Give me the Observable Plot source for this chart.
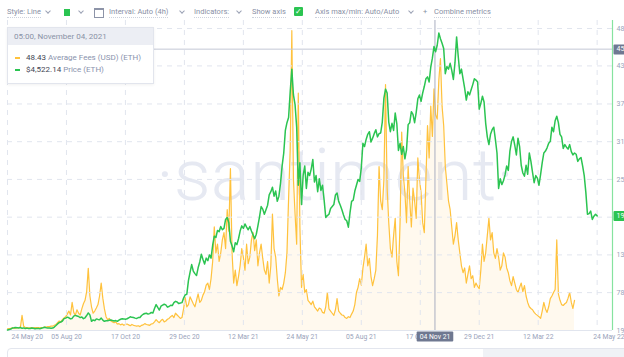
<!DOCTYPE html>
<html><head><meta charset="utf-8">
<script src="https://cdn.jsdelivr.net/npm/d3@7"></script>
<script src="https://cdn.jsdelivr.net/npm/@observablehq/plot@0.6"></script>
<style>
html,body{margin:0;padding:0;background:#fff;overflow:hidden;}
body{width:624px;height:357px;position:relative;font-family:Roboto,"Noto Sans",sans-serif;}
.tb{position:absolute;top:7px;font-size:7.5px;line-height:10px;color:#8990a5;white-space:nowrap;border-bottom:1px dotted #cdd2dd;}
.chev{position:absolute;top:9px;width:3px;height:3px;border-right:1px solid #9ba2b5;border-bottom:1px solid #9ba2b5;transform:rotate(45deg);}
#plots{position:absolute;left:0;top:20px;width:624px;height:325px;}
#plots svg{position:absolute;left:0;top:0;}
#tip{position:absolute;left:7px;top:27px;width:145px;height:55px;background:#fff;border:1px solid #e2e5ed;box-shadow:0 1px 3px rgba(0,0,0,.06);font-size:8px;}
#tip .hd{height:17px;background:#eceef4;color:#8a92a6;line-height:17px;padding-left:6px;}
#tip .row{position:absolute;left:7px;height:10px;line-height:10px;white-space:nowrap;color:#8a93ad;}
#tip .dash{display:inline-block;width:5px;height:1.5px;vertical-align:middle;margin-right:6px;}
#tip b{font-weight:400;color:#3f4553;}
#nav{position:absolute;left:7px;top:348px;width:630px;height:14px;border:1px solid #e3e6ee;border-radius:4px;overflow:hidden;}
#nav .sh{position:absolute;left:475px;top:0;width:160px;height:14px;background:#f0f2f6;}
</style></head>
<body>
<div class="tb" style="left:7px">Style: Line</div><div class="chev" style="left:46px"></div>
<div style="position:absolute;left:64px;top:9px;width:6px;height:7px;background:#2bc451"></div><div class="chev" style="left:79px"></div>
<div style="position:absolute;left:94px;top:8px;width:8px;height:7px;border:1px solid #8d94a8;border-top-width:2px"></div>
<div class="tb" style="left:109px">Interval: Auto (4h)</div><div class="chev" style="left:180px"></div>
<div class="tb" style="left:194px">Indicators:</div><div class="chev" style="left:237px"></div>
<div class="tb" style="left:252px">Show axis</div>
<div style="position:absolute;left:294px;top:7px;width:9px;height:9px;background:#2bc451;border-radius:1px;color:#fff;font-size:8px;line-height:9px;text-align:center">✓</div>
<div class="tb" style="left:315px">Axis max/min: Auto/Auto</div><div class="chev" style="left:409px"></div>
<div class="tb" style="left:423px;border:none">+</div>
<div class="tb" style="left:434px">Combine metrics</div>
<div id="plots"></div>
<div id="tip"><div class="hd">05:00, November 04, 2021</div>
<div class="row" style="top:25px"><span class="dash" style="background:#ffc23d"></span><b>48.43</b> Average Fees (USD) (ETH)</div>
<div class="row" style="top:37px"><span class="dash" style="background:#2bc451"></span><b>$4,522.14</b> Price (ETH)</div>
</div>
<div id="nav"><div class="sh"></div></div>
<script>
// ---- data (2-day steps from 24 May 2020) ----
const startDate = "2020-05-24";
const stepDays = 2;
const price = [205,212,220,236,240,246,242,236,244,232,
238,228,235,229,230,236,232,224,228,231,
226,234,240,247,240,236,238,233,236,252,
275,300,320,330,345,382,390,405,395,378,
385,420,432,424,415,398,408,382,395,430,
470,440,340,362,350,378,370,365,390,360,
340,348,350,356,360,352,345,352,340,358,
372,380,378,372,380,395,410,402,400,390,
385,398,400,430,450,462,465,452,460,478,
470,540,600,555,515,575,590,605,595,560,
570,590,585,630,650,640,615,625,630,700,
750,760,970,1100,1220,1120,1080,1050,1170,1260,
1380,1300,1230,1320,1280,1370,1320,1520,1660,1640,
1750,1730,1810,1760,1780,1920,1950,1870,1580,1510,
1420,1560,1530,1620,1740,1820,1780,1850,1800,1760,
1810,1740,1680,1620,1690,1820,1960,2120,2080,2000,
2070,2140,2300,2350,2420,2280,2360,2200,2280,2480,
2750,2950,3300,3420,3500,3900,4250,3850,3700,3350,
2450,2800,2150,2600,2750,2400,2650,2600,2700,2850,
2500,2600,2350,2550,2370,2450,2220,1950,1980,2000,
2090,2120,2150,2300,2330,2200,2140,2070,1990,1920,
1900,1800,2020,2200,2220,2360,2450,2540,2510,2720,
3100,3050,3160,3240,3280,3120,3180,3250,3310,3200,
3250,3260,3430,3800,3940,3880,3430,3280,3410,3300,
3570,3400,2990,3100,2930,3050,2860,3000,3390,3420,
3590,3550,3420,3580,3790,3850,3750,3880,3980,4100,
4130,4050,4280,4420,4600,4520,4620,4810,4720,4650,
4570,4180,4290,4250,4340,4230,4090,4350,4750,4450,
4180,4250,4100,3950,3770,3900,3850,3930,4010,4100,
4080,4050,3630,3720,3830,3740,3410,3200,3080,3240,
3310,3350,3160,2950,2400,2550,2460,2520,2610,2750,
2680,2980,3130,3200,3070,2920,3180,3050,2760,2640,
2590,2760,2620,2950,2820,2650,2490,2600,2560,2450,
2620,2800,2950,2980,3030,3100,3130,3350,3280,3450,
3520,3420,3240,3200,3020,3080,3040,3010,3080,2970,
2920,2950,2930,2820,2860,2880,2750,2600,2340,2000,
2010,2050,1920,1970,2000,1975];
const fees = [0.4,0.45,0.5,0.6,0.5,0.55,0.6,0.7,0.8,3.5,
1.0,0.7,0.7,0.6,0.6,0.65,0.6,0.7,0.7,0.65,
0.6,0.7,0.7,0.8,0.8,0.9,0.9,1.0,1.0,1.2,
1.4,1.8,2.2,2.0,2.5,2.9,3.2,3.8,4.5,3.6,
6.5,4.2,3.5,4.8,4.0,3.6,5.0,6.2,7.0,9.0,
14.4,8.0,5.5,4.0,4.5,5.2,6.0,8.0,11.0,7.5,
5.0,3.2,2.5,2.8,2.2,2.0,1.8,2.0,1.5,1.6,
1.3,1.5,1.2,1.4,1.5,1.3,1.1,1.4,1.2,1.1,
1.0,1.1,0.9,1.2,1.3,1.6,1.4,1.3,1.2,1.5,
1.6,2.0,2.5,2.1,1.8,2.3,2.6,2.0,2.2,2.6,
2.8,3.2,3.5,3.0,4.0,3.6,3.2,2.8,3.0,5.0,
7.6,5.5,6.0,7.8,7.0,6.2,5.5,7.0,8.5,6.5,
7.0,8.2,9.0,10.5,11.0,9.5,12.0,16.0,24.0,18.0,
20.0,16.0,18.0,21.0,22.7,19.0,28.0,23.0,37.5,18.0,
11.0,14.0,10.4,12.5,15.0,19.0,17.0,14.0,20.0,15.5,
17.0,21.0,22.7,18.5,21.0,15.0,18.0,20.0,16.7,14.0,
13.0,16.0,11.0,15.0,27.0,19.0,17.0,12.0,8.0,10.0,
9.5,11.0,13.4,18.0,30.6,42.0,69.5,35.0,27.0,20.0,
55.0,24.0,10.0,13.0,8.8,9.5,7.0,6.5,6.0,6.8,
5.5,5.0,4.5,5.2,5.0,4.2,4.0,5.5,8.8,5.0,
4.5,4.0,3.5,4.8,7.4,4.5,4.0,3.6,3.5,3.0,
2.8,3.2,3.0,3.8,4.5,6.0,8.8,10.0,12.0,10.5,
14.4,17.0,20.0,15.0,16.7,12.5,10.4,12.0,14.0,22.0,
38.0,30.0,28.0,35.0,57.0,33.0,25.0,19.0,17.0,22.0,
26.0,16.0,12.7,25.0,46.0,36.0,32.0,25.0,38.0,30.0,
24.0,33.0,30.0,26.0,40.0,35.0,32.0,25.0,22.7,35.0,
47.5,40.0,52.0,45.0,56.0,50.0,49.0,58.0,63.0,52.0,
47.5,38.0,34.0,30.0,28.0,24.0,20.0,22.0,25.0,21.0,
18.0,15.0,13.4,14.5,11.0,13.0,15.0,12.0,12.7,10.0,
11.0,10.2,9.7,14.0,20.0,16.0,18.0,22.0,26.0,21.0,
22.7,18.0,16.7,19.0,17.0,14.0,15.0,18.0,17.0,14.5,
13.4,11.5,10.4,12.5,11.0,9.5,8.8,10.0,11.0,9.0,
10.4,8.0,6.5,5.5,5.1,4.8,4.2,3.8,3.5,3.2,
2.8,4.5,6.5,5.0,4.2,5.5,7.4,8.0,8.8,9.5,
21.0,8.5,7.0,6.0,5.8,6.2,6.5,7.5,8.8,6.5,
5.1,7.0];
const xTickDates = ["2020-05-24","2020-08-05","2020-10-17","2020-12-29","2021-03-12","2021-05-24","2021-08-05","2021-10-17","2021-12-29","2022-03-12","2022-05-24"];
const priceTicks = [198,785,1370,1955,2540,3125,3710,4300,4880];
const xDomain = ["2020-05-24","2022-06-12"];
const feeDomain = [0,70];
const crossDate = "2021-11-04T05:00Z";
const crossPrice = 4560;
const watermark = "·santiment·";

// ---- build ----
const DAY = 864e5;
const t0 = new Date(startDate).getTime();
const priceData = price.map((v,i)=>({date:new Date(t0+i*stepDays*DAY), value:v}));
const feeData = fees.map((v,i)=>({date:new Date(t0+i*stepDays*DAY), value:v}));
const xTicks = xTickDates.map(d=>new Date(d));
const xDom = xDomain.map(d=>new Date(d));
const cross = new Date(crossDate);
const fmtX = d3.utcFormat("%d %b %y");
const fmtP = d3.format("d");
const lastPrice = price[price.length-1];

const common = {width:624, height:325, marginTop:0, marginBottom:15, marginLeft:7, marginRight:12};
const font = "Roboto, 'Noto Sans', sans-serif";
const GREEN = "#2bc451", ORANGE = "#ffc23d", LBL = "#9aa3ba";

const feeChart = Plot.plot({
  ...common,
  style:{background:"#fff", overflow:"hidden", fontFamily:font},
  x:{type:"utc", domain:xDom, axis:null},
  y:{domain:feeDomain, range:[310,8], axis:null},
  marks:[
    Plot.text([watermark], {text:d=>d, frameAnchor:"middle", dx:25, dy:1, fontSize:73, fontWeight:300, fill:"#e6e9f2"}),
    Plot.areaY(feeData, {x:"date", y:"value", fill:ORANGE, fillOpacity:0.09}),
    Plot.lineY(feeData, {x:"date", y:"value", stroke:ORANGE, strokeWidth:1.2})
  ]
});

const priceChart = Plot.plot({
  ...common,
  style:{background:"transparent", overflow:"hidden", fontFamily:font},
  x:{type:"utc", domain:xDom, axis:null},
  y:{domain:[priceTicks[0], priceTicks[priceTicks.length-1]], range:[310,8], axis:null},
  marks:[
    Plot.ruleX(xTicks, {x:d=>d, stroke:"#e1e5ee", strokeDasharray:"5,5"}),
    Plot.ruleY(priceTicks.slice(1), {y:d=>d, stroke:"#e1e5ee", strokeDasharray:"5,5"}),
    Plot.ruleY([priceTicks[0]], {y:d=>d, stroke:"#e1e5ee"}),
    Plot.ruleX([cross], {x:d=>d, stroke:"#a9afc0"}),
    Plot.ruleY([crossPrice], {y:d=>d, stroke:"#c3c8d6"}),
    Plot.ruleX([xDom[1]], {x:d=>d, stroke:"#86e39f", strokeWidth:1.2}),
    Plot.lineY(priceData, {x:"date", y:"value", stroke:GREEN, strokeWidth:1.5}),
    Plot.text(priceTicks, {y:d=>d, text:d=>fmtP(d), frameAnchor:"right", textAnchor:"start", dx:4, fill:LBL, fontSize:7}),
    Plot.text(xTicks.slice(1,-1), {x:d=>d, text:d=>fmtX(d), frameAnchor:"bottom", dy:8, fill:LBL, fontSize:6.8}),
    Plot.text(xTicks.slice(0,1), {x:d=>d, text:d=>fmtX(d), frameAnchor:"bottom", dy:8, textAnchor:"start", dx:4, fill:LBL, fontSize:6.8}),
    Plot.text(xTicks.slice(-1), {x:d=>d, text:d=>fmtX(d), frameAnchor:"bottom", dy:8, textAnchor:"start", dx:-4, fill:LBL, fontSize:6.8}),
    Plot.text([cross], {x:d=>d, text:d=>fmtX(d), frameAnchor:"bottom", dy:8, fill:"#ffffff", fontSize:6.8}),
    Plot.text([crossPrice], {y:d=>d, text:d=>fmtP(d), frameAnchor:"right", textAnchor:"start", dx:4, fill:"#ffffff", fontSize:7}),
    Plot.text([lastPrice], {y:d=>d, text:d=>fmtP(d), frameAnchor:"right", textAnchor:"start", dx:4, fill:"#fffffe", fontSize:7})
  ]
});

const holder = document.getElementById("plots");
holder.appendChild(feeChart);
holder.appendChild(priceChart);

// label boxes behind the white labels (same transform as the label)
d3.select(priceChart).selectAll("text").each(function(){
  const node = this;
  const f = getComputedStyle(node).fill.replace(/\s/g,"");
  let box = null;
  if (f === "rgb(255,255,255)") box = "#6f7891";
  else if (f === "rgb(255,255,254)") box = GREEN;
  if (!box) return;
  const b = node.getBBox();
  const r = d3.select(node.parentNode).insert("rect", () => node)
    .attr("x", b.x-3).attr("y", b.y-1).attr("width", b.width+6).attr("height", b.height+2)
    .attr("rx", 1).attr("fill", box);
  const tr = node.getAttribute("transform");
  if (tr) r.attr("transform", tr);
});
</script>
</body></html>
